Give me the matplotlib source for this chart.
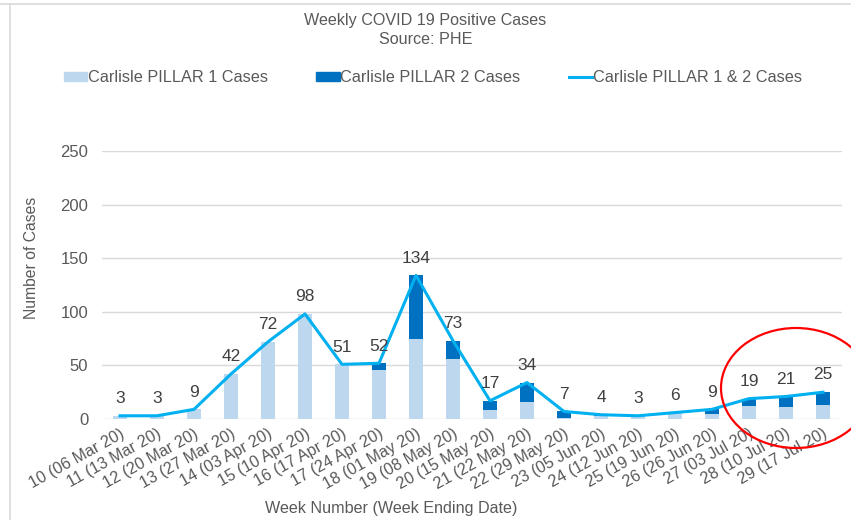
import matplotlib
matplotlib.use("Agg")
import matplotlib.pyplot as plt
from matplotlib.patches import Ellipse
from matplotlib.lines import Line2D
import numpy as np

plt.rcParams["font.family"] = ["Liberation Sans", "DejaVu Sans"]

WEEKS = ["10 (06 Mar 20)", "11 (13 Mar 20)", "12 (20 Mar 20)", "13 (27 Mar 20)",
         "14 (03 Apr 20)", "15 (10 Apr 20)", "16 (17 Apr 20)", "17 (24 Apr 20)",
         "18 (01 May 20)", "19 (08 May 20)", "20 (15 May 20)", "21 (22 May 20)",
         "22 (29 May 20)", "23 (05 Jun 20)", "24 (12 Jun 20)", "25 (19 Jun 20)",
         "26 (26 Jun 20)", "27 (03 Jul 20)", "28 (10 Jul 20)", "29 (17 Jul 20)"]
PILLAR1 = [3, 3, 9, 42, 72, 98, 51, 46, 75, 56, 8, 16, 1, 3, 3, 6, 5, 12, 11, 13]
PILLAR2 = [0, 0, 0, 0, 0, 0, 0, 6, 59, 17, 9, 18, 6, 1, 0, 0, 4, 7, 10, 12]
TOTAL = [3, 3, 9, 42, 72, 98, 51, 52, 134, 73, 17, 34, 7, 4, 3, 6, 9, 19, 21, 25]

C_P1 = "#BDD7EE"
C_P2 = "#0070C0"
C_LINE = "#00B0F0"
TXT = "#595959"

W, H = 851, 520
fig = plt.figure(figsize=(W / 100, H / 100), dpi=100)
ax = fig.add_axes([101.5 / W, 1 - 419 / H, 740 / W, (419 - 151) / H])

x = np.arange(len(WEEKS))
ax.bar(x, PILLAR1, 0.4, color=C_P1, zorder=2)
ax.bar(x, PILLAR2, 0.4, bottom=PILLAR1, color=C_P2, zorder=2)
ax.plot(x, TOTAL, color=C_LINE, lw=2.2, zorder=3)
for xi, t in zip(x, TOTAL):
    ax.annotate(str(t), (xi, t), xytext=(0, 7), textcoords="offset points",
                ha="center", va="bottom", fontsize=12.5, color="#404040")

ax.set_xlim(-0.5, len(WEEKS) - 0.5)
ax.set_ylim(0, 250)
ax.set_yticks(range(0, 251, 50))
ax.yaxis.grid(True, color="#D9D9D9", lw=1)
ax.set_axisbelow(True)
for s in ax.spines.values():
    s.set_visible(False)
ax.tick_params(length=0, colors=TXT)
ax.tick_params(axis="y", pad=9.5, labelsize=12)
ax.tick_params(axis="x", pad=5, labelsize=11.6)
ax.set_xticks(x)
ax.set_xticklabels(WEEKS, rotation=29, ha="right", rotation_mode="anchor")

fig.text(32 / W, 1 - 258 / H, "Number of Cases", rotation=90, ha="center", va="center",
         fontsize=11.3, color=TXT)
fig.text(391.5 / W, 1 - 509 / H, "Week Number (Week Ending Date)", ha="center",
         va="center", fontsize=11.6, color=TXT)

fig.text(0.5, 1 - 20 / H, "Weekly COVID 19 Positive Cases", ha="center", va="center",
         fontsize=11.6, color=TXT)
fig.text(0.5, 1 - 40 / H, "Source: PHE", ha="center", va="center", fontsize=11.6,
         color=TXT)

handles = [plt.Rectangle((0, 0), 1, 1, color=C_P1),
           plt.Rectangle((0, 0), 1, 1, color=C_P2),
           Line2D([0], [0], color=C_LINE, lw=2.2)]
leg = fig.legend(handles, ["Carlisle PILLAR 1 Cases", "Carlisle PILLAR 2 Cases",
                           "Carlisle PILLAR 1 & 2 Cases"],
                 loc="center", bbox_to_anchor=(433 / W, 1 - 78 / H), ncol=3,
                 frameon=False, fontsize=11.7, handlelength=1.42, handletextpad=0.05,
                 columnspacing=2.97, handleheight=0.43)
for t in leg.get_texts():
    t.set_color(TXT)

# chart-area border
fig.add_artist(Line2D([10 / W, 10 / W], [0, 1 - 4 / H], color="#D9D9D9", lw=1.2,
                      transform=fig.transFigure))
fig.add_artist(Line2D([0, 1], [1 - 4 / H, 1 - 4 / H], color="#D9D9D9", lw=1.2,
                      transform=fig.transFigure))

# red ellipse highlight
fig.add_artist(Ellipse((796 / W, 1 - 388 / H), 150 / W, 120 / H, fill=False,
                       edgecolor="red", lw=1.6, transform=fig.transFigure))

fig.savefig("out.png", dpi=100)
